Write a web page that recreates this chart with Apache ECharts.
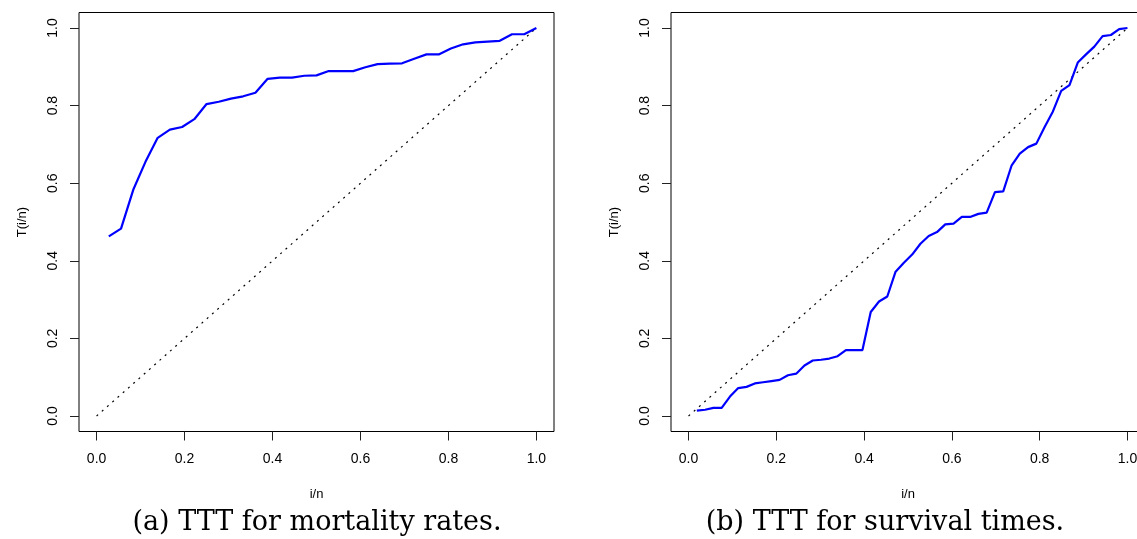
<!DOCTYPE html>
<html>
<head>
<meta charset="utf-8">
<script src="https://cdn.jsdelivr.net/npm/echarts@6/dist/echarts.min.js"></script>
<style>
  html, body { margin: 0; padding: 0; background: #fff; }
  #main { width: 1137px; height: 539px; }
</style>
</head>
<body>
<div id="main"></div>
<script>
// TTT plot values, T(i/n) for i = 1..n
var mortalityTTT = [0.463, 0.483, 0.583, 0.655, 0.717, 0.738, 0.745, 0.765, 0.804, 0.810,
    0.818, 0.824, 0.833, 0.869, 0.872, 0.872, 0.877, 0.878, 0.889, 0.889,
    0.889, 0.899, 0.907, 0.908, 0.909, 0.921, 0.932, 0.932, 0.947, 0.958,
    0.963, 0.965, 0.967, 0.984, 0.984, 1.0];
var survivalTTT = [0.014, 0.016, 0.021, 0.021, 0.050, 0.072, 0.075, 0.084, 0.087, 0.090,
    0.093, 0.105, 0.109, 0.130, 0.143, 0.145, 0.148, 0.154, 0.170, 0.170,
    0.170, 0.268, 0.295, 0.308, 0.372, 0.395, 0.416, 0.444, 0.464, 0.474,
    0.494, 0.496, 0.513, 0.513, 0.521, 0.524, 0.577, 0.579, 0.645, 0.676,
    0.693, 0.702, 0.745, 0.785, 0.838, 0.853, 0.911, 0.932, 0.952, 0.979,
    0.982, 0.997, 1.0];
var diagonal = [[0, 0], [1, 1]];
var tickValues = [0, 0.2, 0.4, 0.6, 0.8, 1.0];
var captions = ['(a) TTT for mortality rates.', '(b) TTT for survival times.'];

function toPoints(values) {
    var n = values.length;
    var pts = [];
    for (var i = 0; i < n; i++) {
        pts.push([(i + 1) / n, values[i]]);
    }
    return pts;
}

var labelFont = { color: '#000', fontFamily: 'Liberation Sans', fontSize: 13 };

function makeX(gridIndex) {
    return {
        type: 'value', gridIndex: gridIndex, min: -0.04, max: 1.04,
        name: 'i/n', nameLocation: 'middle', nameGap: 56,
        nameTextStyle: labelFont,
        splitLine: { show: false },
        axisLine: { show: false, onZero: false },
        axisTick: { show: true, length: 9, customValues: tickValues, lineStyle: { color: '#222' } },
        axisLabel: {
            customValues: tickValues, margin: 21,
            color: '#000', fontFamily: 'Liberation Sans', fontSize: 14,
            formatter: function (v) { return v.toFixed(1); }
        }
    };
}
function makeY(gridIndex) {
    return {
        type: 'value', gridIndex: gridIndex, min: -0.04, max: 1.04,
        name: 'T(i/n)', nameLocation: 'middle', nameGap: 50, nameRotate: 90,
        nameTextStyle: labelFont,
        splitLine: { show: false },
        axisLine: { show: false, onZero: false },
        axisTick: { show: true, length: 9, customValues: tickValues, lineStyle: { color: '#222' } },
        axisLabel: {
            customValues: tickValues, margin: 19, rotate: 90,
            color: '#000', fontFamily: 'Liberation Sans', fontSize: 14,
            formatter: function (v) { return v.toFixed(1); }
        }
    };
}
function ttt(values, idx) {
    return {
        type: 'line', xAxisIndex: idx, yAxisIndex: idx, data: toPoints(values),
        showSymbol: false, symbol: 'none', animation: false,
        lineStyle: { color: '#0000ff', width: 2.2 }
    };
}
function diag(idx) {
    return {
        type: 'line', xAxisIndex: idx, yAxisIndex: idx, data: diagonal,
        showSymbol: false, symbol: 'none', animation: false,
        lineStyle: { color: '#000', width: 1.2, type: [2, 5] }
    };
}

var chart = echarts.init(document.getElementById('main'));
chart.setOption({
    animation: false,
    backgroundColor: '#fff',
    grid: [
        { left: 79, top: 12.5, width: 475, height: 419, show: true, borderColor: '#000', borderWidth: 1,
          containLabel: false, outerBoundsMode: 'none' },
        { left: 671, top: 12.5, width: 474, height: 419, show: true, borderColor: '#000', borderWidth: 1,
          containLabel: false, outerBoundsMode: 'none' }
    ],
    xAxis: [makeX(0), makeX(1)],
    yAxis: [makeY(0), makeY(1)],
    series: [diag(0), ttt(mortalityTTT, 0), diag(1), ttt(survivalTTT, 1)],
    graphic: [
        { type: 'text', x: 317, y: 523, style: { text: captions[0], fill: '#000',
            font: '27px "DejaVu Serif"', textAlign: 'center', textVerticalAlign: 'middle' } },
        { type: 'text', x: 885, y: 523, style: { text: captions[1], fill: '#000',
            font: '27px "DejaVu Serif"', textAlign: 'center', textVerticalAlign: 'middle' } }
    ]
});
</script>
</body>
</html>
